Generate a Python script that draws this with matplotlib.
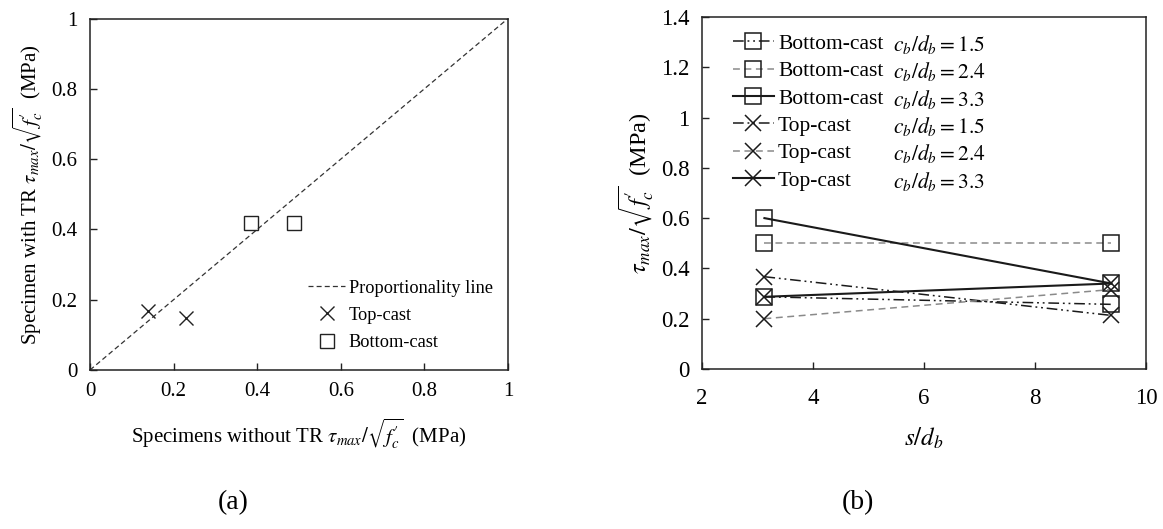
import matplotlib
matplotlib.use("Agg")
from matplotlib import pyplot as plt
from matplotlib.lines import Line2D

plt.rcParams["font.family"] = ["Liberation Serif", "DejaVu Serif"]
plt.rcParams["mathtext.fontset"] = "stix"

# (a) specimens with / without transverse reinforcement
top_without = [0.138, 0.229]
top_with = [0.169, 0.148]
bottom_without = [0.384, 0.489]
bottom_with = [0.417, 0.417]
prop_line = [0, 1]

# (b) normalised bond strength vs bar spacing
s_db = [3.125, 9.375]
bot_15 = [0.287, 0.257]
bot_24 = [0.50, 0.50]
bot_33 = [0.60, 0.34]
top_15 = [0.367, 0.213]
top_24 = [0.20, 0.316]
top_33 = [0.287, 0.34]
cast_names = ["Bottom-cast", "Bottom-cast", "Bottom-cast", "Top-cast", "Top-cast", "Top-cast"]
ratio_labels = [r"$c_b/d_b = 1.5$", r"$c_b/d_b = 2.4$", r"$c_b/d_b = 3.3$",
                r"$c_b/d_b = 1.5$", r"$c_b/d_b = 2.4$", r"$c_b/d_b = 3.3$"]

fig = plt.figure(figsize=(11.63, 5.29), dpi=100)
ax_a = fig.add_axes([0.0774, 0.3006, 0.3594, 0.6644])
ax_b = fig.add_axes([0.6036, 0.3025, 0.3818, 0.6654])

for ax in (ax_a, ax_b):
    for sp in ax.spines.values():
        sp.set_linewidth(1.1)
        sp.set_color("#222222")
    ax.tick_params(direction="in", length=5, width=1.0, color="#222222")

# ---- panel (a)
ax_a.plot(prop_line, prop_line, color="#333333", lw=0.9, dashes=(4, 2.5), label="Proportionality line")
ax_a.plot(top_without, top_with, ls="none", marker="x", ms=10, mew=1.0, color="#222222", label="Top-cast")
ax_a.plot(bottom_without, bottom_with, ls="none", marker="s", ms=10, mew=1.0, mfc="none",
          color="#222222", label="Bottom-cast")
ax_a.set_xlim(0, 1)
ax_a.set_ylim(0, 1)
ax_a.set_xticks([0, 0.2, 0.4, 0.6, 0.8, 1])
ax_a.set_yticks([0, 0.2, 0.4, 0.6, 0.8, 1])
ax_a.set_xticklabels(["0", "0.2", "0.4", "0.6", "0.8", "1"])
ax_a.set_yticklabels(["0", "0.2", "0.4", "0.6", "0.8", "1"])
ax_a.tick_params(labelsize=15, pad=9)
ax_a.set_xlabel(r"Specimens without TR $\tau_{max}/\sqrt{f^{\prime}_c}$  (MPa)", fontsize=15, labelpad=11)
ax_a.set_ylabel(r"Specimen with TR $\tau_{max}/\sqrt{f^{\prime}_c}$  (MPa)", fontsize=15, labelpad=4)
ax_a.legend(loc="lower right", bbox_to_anchor=(0.985, 0.028), frameon=False, fontsize=13.2,
            handlelength=2.0, handletextpad=0.2, labelspacing=0.55, borderpad=0)

# ---- panel (b)
black = "#1a1a1a"
grey = "#8a8a8a"
ddot = (7, 2.5, 1.2, 2.5, 1.2, 2.5)
dash = (4.5, 3)
ax_b.plot(s_db, bot_15, color=black, lw=1.1, dashes=ddot, marker="s", ms=11, mfc="none", mew=1.1)
ax_b.plot(s_db, bot_24, color=grey, lw=1.1, dashes=dash, marker="s", ms=11, mfc="none", mew=1.1, mec=black)
ax_b.plot(s_db, bot_33, color=black, lw=1.5, marker="s", ms=11, mfc="none", mew=1.1)
ax_b.plot(s_db, top_15, color=black, lw=1.1, dashes=ddot, marker="x", ms=11, mew=1.1)
ax_b.plot(s_db, top_24, color=grey, lw=1.1, dashes=dash, marker="x", ms=11, mew=1.1, mec=black)
ax_b.plot(s_db, top_33, color=black, lw=1.5, marker="x", ms=11, mew=1.1)

handles = [
    Line2D([], [], color=black, lw=1.1, dashes=ddot, marker="s", ms=11, mfc="none", mew=1.1),
    Line2D([], [], color=grey, lw=1.1, dashes=dash, marker="s", ms=11, mfc="none", mew=1.1, mec=black),
    Line2D([], [], color=black, lw=1.5, marker="s", ms=11, mfc="none", mew=1.1),
    Line2D([], [], color=black, lw=1.1, dashes=ddot, marker="x", ms=11, mew=1.1),
    Line2D([], [], color=grey, lw=1.1, dashes=dash, marker="x", ms=11, mew=1.1, mec=black),
    Line2D([], [], color=black, lw=1.5, marker="x", ms=11, mew=1.1),
]
leg = ax_b.legend(handles, cast_names, loc="upper left", bbox_to_anchor=(0.045, 0.983), frameon=False,
                  fontsize=15.5, handlelength=1.9, handletextpad=0.2, labelspacing=0.34, borderpad=0)

ax_b.set_xlim(2, 10)
ax_b.set_ylim(0, 1.4)
ax_b.set_xticks([2, 4, 6, 8, 10])
ax_b.set_xticklabels(["2", "4", "6", "8", "10"])
ax_b.set_yticks([0, 0.2, 0.4, 0.6, 0.8, 1, 1.2, 1.4])
ax_b.set_yticklabels(["0", "0.2", "0.4", "0.6", "0.8", "1", "1.2", "1.4"])
ax_b.tick_params(labelsize=16.5, pad=9)
ax_b.tick_params(axis="x", pad=14)
ax_b.set_xlabel(r"$s/d_b$", fontsize=18, labelpad=12)
ax_b.set_ylabel(r"$\tau_{max}/\sqrt{f^{\prime}_c}$  (MPa)", fontsize=17.5, labelpad=4)

# second legend column: cover-to-diameter ratio, aligned to each legend row
fig.canvas.draw()
inv = ax_b.transAxes.inverted()
for t, lab in zip(leg.get_texts(), ratio_labels):
    bb = t.get_window_extent()
    _, y_ax = inv.transform((bb.x0, (bb.y0 + bb.y1) / 2))
    ax_b.text(0.43, y_ax, lab, transform=ax_b.transAxes, fontsize=15.5, va="center", ha="left")

fig.text(0.2003, 0.049, "(a)", fontsize=20, ha="center", va="center")
fig.text(0.7377, 0.049, "(b)", fontsize=20, ha="center", va="center")

fig.savefig("out.png", dpi=100)
